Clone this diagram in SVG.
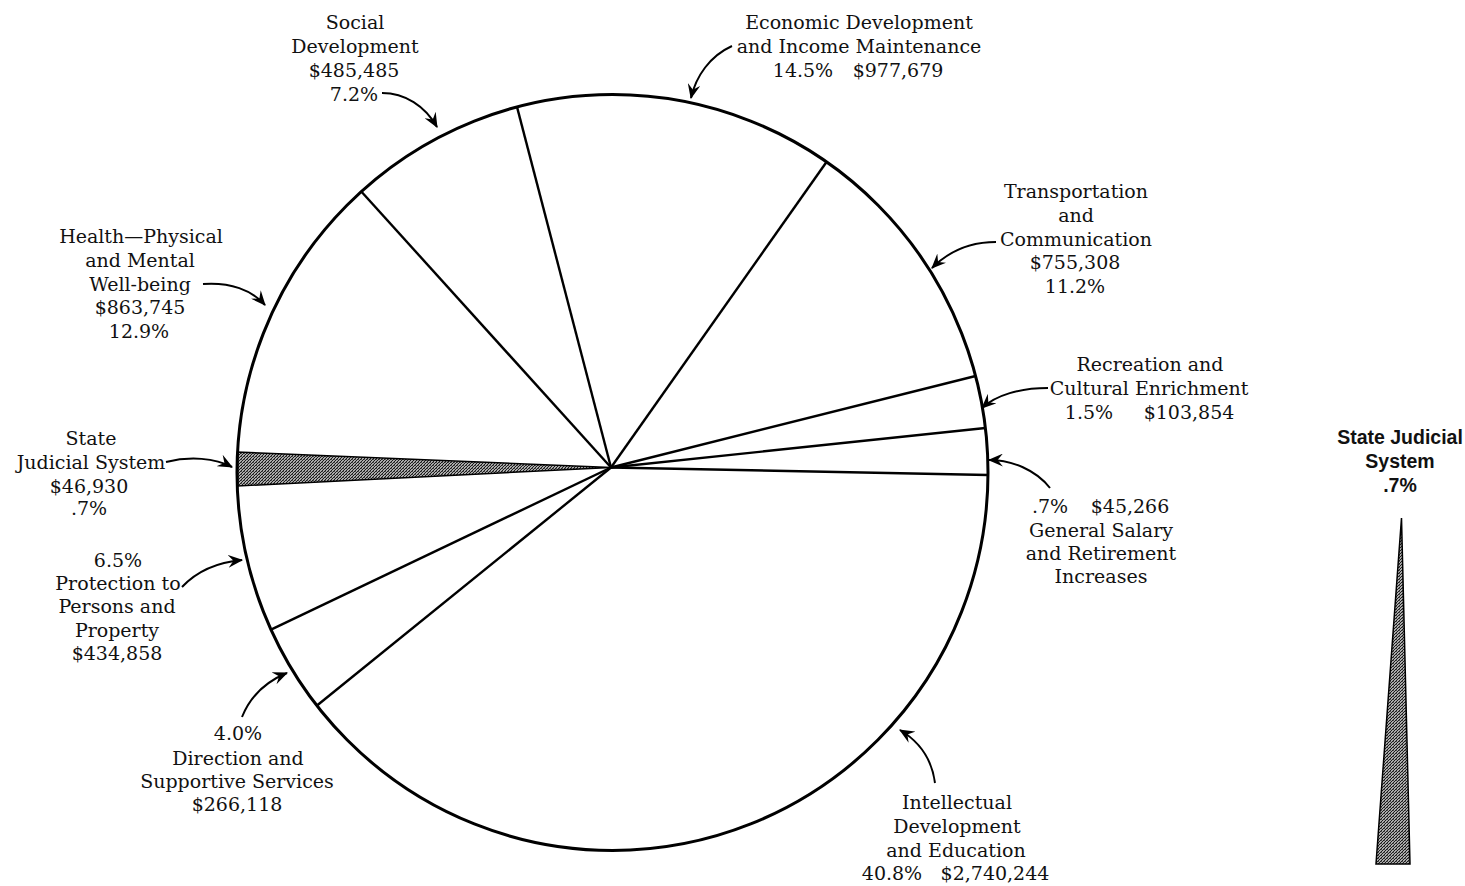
<svg xmlns="http://www.w3.org/2000/svg" width="1465" height="886" viewBox="0 0 1465 886">
<style>
.lbl{font-family:"DejaVu Serif","Liberation Serif",serif;font-size:19px;fill:#111;text-anchor:middle}
.ttl{font-family:"Liberation Sans",Arial,sans-serif;font-size:19.5px;font-weight:bold;fill:#111;text-anchor:middle}
.rim{fill:none;stroke:#000;stroke-width:3}
.spoke{stroke:#000;stroke-width:2.4;fill:none}
.arr{fill:none;stroke:#000;stroke-width:2;marker-end:url(#ah)}
.stip{fill:url(#dots);stroke:#000;stroke-width:1.5}
</style>
<defs>
<pattern id="dots" width="3" height="3" patternUnits="userSpaceOnUse">
<rect width="3" height="3" fill="#aaa"/>
<rect x="0" y="0" width="1" height="1" fill="#1a1a1a"/>
<rect x="2" y="1" width="1" height="1" fill="#1a1a1a"/>
<rect x="1" y="2" width="1" height="1" fill="#1a1a1a"/>
<rect x="1" y="0" width="1" height="1" fill="#555"/>
</pattern>
<marker id="ah" viewBox="0 0 14 12" refX="13" refY="6" markerWidth="15" markerHeight="13" markerUnits="userSpaceOnUse" orient="auto">
<path d="M0,0 L14,6 L0,12 L5,6 Z" fill="#000"/>
</marker>
</defs>
<rect width="1465" height="886" fill="#fff"/>

<g id="pie">
<path id="judicial-wedge" class="stip" d="M611,467.5 L237.5,452 L237.7,486 Z"/>
<line class="spoke" x1="611" y1="467.5" x2="361.5" y2="191.7"/>
<line class="spoke" x1="611" y1="467.5" x2="517" y2="106.9"/>
<line class="spoke" x1="611" y1="467.5" x2="826.5" y2="162"/>
<line class="spoke" x1="611" y1="467.5" x2="975.6" y2="376"/>
<line class="spoke" x1="611" y1="467.5" x2="985.4" y2="428"/>
<line class="spoke" x1="611" y1="467.5" x2="988" y2="475"/>
<line class="spoke" x1="611" y1="467.5" x2="317" y2="705.5"/>
<line class="spoke" x1="611" y1="467.5" x2="271" y2="629.7"/>
<ellipse class="rim" cx="612.5" cy="472.5" rx="375.5" ry="378"/>
</g>

<g id="connectors">
<path class="arr" d="M382,93 C405,93 425,106 437,127"/>
<path class="arr" d="M732,46 C710,56 696,76 691,98"/>
<path class="arr" d="M996,242 C966,242 946,254 932,268"/>
<path class="arr" d="M1048,388 C1020,388 996,395 982,408"/>
<path class="arr" d="M1050,488 C1036,470 1012,460 989,460"/>
<path class="arr" d="M935,783 C932,760 920,742 900,730"/>
<path class="arr" d="M242,717 C250,697 265,682 287,673"/>
<path class="arr" d="M182,587 C198,570 220,562 242,560"/>
<path class="arr" d="M166,462 C190,456 215,458 232,467"/>
<path class="arr" d="M203,284 C230,282 252,290 265,305"/>
</g>

<g id="social-development">
<text class="lbl" x="355" y="29">Social</text>
<text class="lbl" x="355" y="53">Development</text>
<text class="lbl" x="354" y="77">$485,485</text>
<text class="lbl" x="354" y="101">7.2%</text>
</g>

<g id="economic-development">
<text class="lbl" x="859" y="29">Economic Development</text>
<text class="lbl" x="859" y="53">and Income Maintenance</text>
<text class="lbl" y="77"><tspan x="803">14.5%</tspan><tspan x="898">$977,679</tspan></text>
</g>

<g id="transportation">
<text class="lbl" x="1076" y="198">Transportation</text>
<text class="lbl" x="1076" y="222">and</text>
<text class="lbl" x="1076" y="246">Communication</text>
<text class="lbl" x="1075" y="269">$755,308</text>
<text class="lbl" x="1075" y="293">11.2%</text>
</g>

<g id="recreation">
<text class="lbl" x="1150" y="371">Recreation and</text>
<text class="lbl" x="1149" y="395">Cultural Enrichment</text>
<text class="lbl" y="419"><tspan x="1089">1.5%</tspan><tspan x="1189">$103,854</tspan></text>
</g>

<g id="general-salary">
<text class="lbl" y="513"><tspan x="1050">.7%</tspan><tspan x="1130">$45,266</tspan></text>
<text class="lbl" x="1101" y="537">General Salary</text>
<text class="lbl" x="1101" y="560">and Retirement</text>
<text class="lbl" x="1101" y="583">Increases</text>
</g>

<g id="intellectual-development">
<text class="lbl" x="957" y="809">Intellectual</text>
<text class="lbl" x="957" y="833">Development</text>
<text class="lbl" x="956" y="857">and Education</text>
<text class="lbl" y="880"><tspan x="892">40.8%</tspan><tspan x="995">$2,740,244</tspan></text>
</g>

<g id="direction-supportive">
<text class="lbl" x="238" y="740">4.0%</text>
<text class="lbl" x="238" y="765">Direction and</text>
<text class="lbl" x="237" y="788">Supportive Services</text>
<text class="lbl" x="237" y="811">$266,118</text>
</g>

<g id="protection">
<text class="lbl" x="118" y="567">6.5%</text>
<text class="lbl" x="118" y="590">Protection to</text>
<text class="lbl" x="117" y="613">Persons and</text>
<text class="lbl" x="117" y="637">Property</text>
<text class="lbl" x="117" y="660">$434,858</text>
</g>

<g id="state-judicial">
<text class="lbl" x="91" y="445">State</text>
<text class="lbl" x="91" y="469">Judicial System</text>
<text class="lbl" x="89" y="493">$46,930</text>
<text class="lbl" x="89" y="515">.7%</text>
</g>

<g id="health">
<text class="lbl" x="141" y="243">Health—Physical</text>
<text class="lbl" x="140" y="267">and Mental</text>
<text class="lbl" x="140" y="291">Well-being</text>
<text class="lbl" x="140" y="314">$863,745</text>
<text class="lbl" x="139" y="338">12.9%</text>
</g>

<g id="judicial-detail">
<text class="ttl" x="1400" y="444">State Judicial</text>
<text class="ttl" x="1400" y="468">System</text>
<text class="ttl" x="1400" y="492">.7%</text>
<path class="stip" d="M1401.5,518 L1410,864 L1376,864 Z" stroke-width="0.8"/>
</g>
</svg>
